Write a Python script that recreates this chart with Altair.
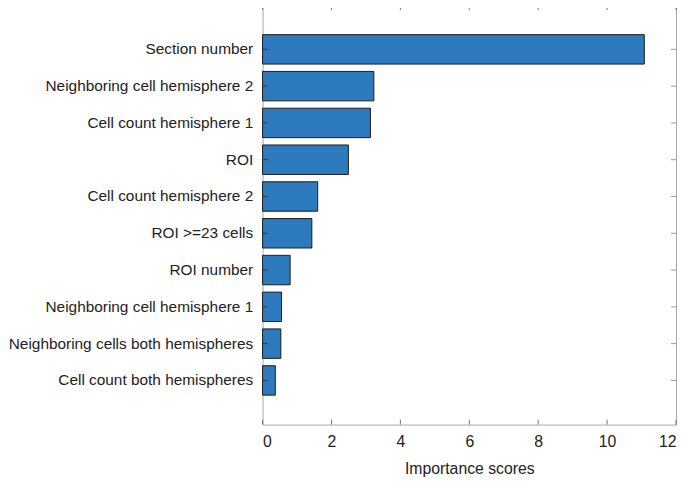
import altair as alt
import pandas as pd

features = [
    "Section number",
    "Neighboring cell hemisphere 2",
    "Cell count hemisphere 1",
    "ROI",
    "Cell count hemisphere 2",
    "ROI >=23 cells",
    "ROI number",
    "Neighboring cell hemisphere 1",
    "Neighboring cells both hemispheres",
    "Cell count both hemispheres",
]
scores = [11.08, 3.23, 3.13, 2.49, 1.60, 1.43, 0.80, 0.55, 0.53, 0.37]
x_ticks = [0, 2, 4, 6, 8, 10, 12]

W, H = 419, 425
FONT = "Liberation Sans"
GRAY = "#a8a8a8"
FS = 16

df = pd.DataFrame({"feature": features, "score": scores})
ticks_df = pd.DataFrame({"t": x_ticks})

yenc = alt.Y(
    "feature:N",
    sort=features,
    scale=alt.Scale(paddingInner=0.2, paddingOuter=0.8),
    axis=alt.Axis(
        title=None, domain=False, ticks=False, labelPadding=10, labelLimit=0,
        labelFontSize=15.6, labelFont=FONT, labelColor="#222222",
    ),
)
xscale = alt.Scale(domain=[0, 12], nice=False, zero=True)

bars = alt.Chart(df).mark_bar(
    color="#2E7ABE", stroke="#1a1a1a", strokeWidth=1
).encode(
    x=alt.X(
        "score:Q",
        scale=xscale,
        axis=alt.Axis(
            title="Importance scores", values=x_ticks, domain=False, ticks=False,
            grid=False, labelPadding=9, labelFontSize=FS, labelFont=FONT,
            labelColor="#222222", titleFont=FONT, titleFontSize=FS,
            titleFontWeight="normal", titleColor="#222222", titlePadding=12,
        ),
    ),
    y=yenc,
)

xt_bottom = alt.Chart(ticks_df).mark_rule(color="#777777", strokeWidth=1).encode(
    x=alt.X("t:Q", scale=xscale), y=alt.value(H), y2=alt.value(H - 5)
)
xt_top = alt.Chart(ticks_df).mark_rule(color="#777777", strokeWidth=1).encode(
    x=alt.X("t:Q", scale=xscale), y=alt.value(0), y2=alt.value(5)
)
yt_left = alt.Chart(df).mark_rule(color="#333333", strokeWidth=1).encode(
    y=yenc, x=alt.value(0), x2=alt.value(5)
)
yt_right = alt.Chart(df).mark_rule(color="#999999", strokeWidth=1).encode(
    y=yenc, x=alt.value(W), x2=alt.value(W - 5)
)

chart = alt.layer(bars, xt_bottom, xt_top, yt_left, yt_right).properties(
    width=W, height=H, padding={"top": -7, "left": 0, "right": 0, "bottom": 0},
    background="white",
).configure_view(stroke=GRAY, strokeWidth=1)

chart.save("out.html", embed_options={"renderer": "svg", "actions": False})
